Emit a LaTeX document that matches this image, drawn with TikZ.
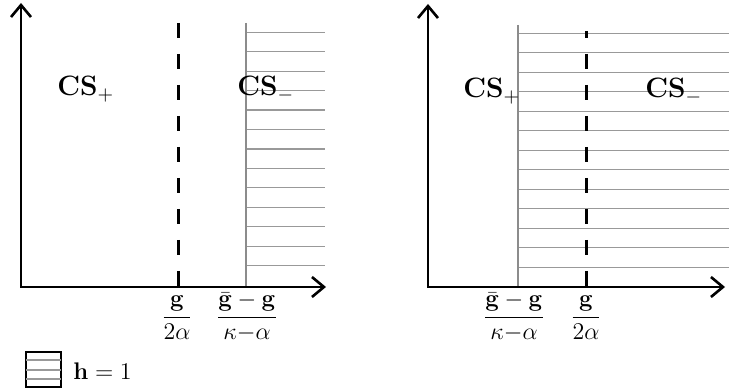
\documentclass[tikz,border=0pt]{standalone}
\usepackage{amsmath}
\usetikzlibrary{arrows.meta}
\tikzset{
  eje/.style={
    line width=1.3pt,
    {Straight Barb[length=6pt,width=10pt]}-{Straight Barb[length=6pt,width=10pt]}
  },
  corte/.style={
    line width=1.5pt,
    dash pattern=on 7.5pt off 8pt
  },
  borde/.style={
    draw=black!45,
    line width=0.7pt
  },
  raya/.style={
    draw=black!40,
    line width=0.6pt
  },
  rotulo/.style={
    inner sep=0pt,
    font=\fontsize{14}{17}\selectfont
  },
  cociente/.style={
    inner sep=0pt,
    anchor=base,
    font=\fontsize{12}{14}\selectfont
  }
}

\begin{document}
\begin{tikzpicture}[x=0.5pt,y=-0.5pt]
\useasboundingbox (0,0) rectangle (729,389);
% panel izquierdo
\coordinate (o1) at (21,287);
\coordinate (y1) at (21,3);
\coordinate (x1) at (326,287);
\foreach \k in {0,...,12}
  \draw[raya] (246,{32.3+19.45*\k}) -- (325,{32.3+19.45*\k});
\draw[borde] (246,23) -- (246,287);
\draw[corte] (178,23) -- (178,287);
\draw[eje] (y1) -- (o1) -- (x1);
\node[rotulo, anchor=base west] (cs1) at (57,96) {\textbf{CS}$_{+}$};
\node[rotulo, anchor=base west] (cs2) at (237,96) {\textbf{CS}$_{-}$};
\node[cociente] (f1) at (177,323) {$\displaystyle\frac{\mathbf{g}}{2\alpha}$};
\node[cociente] (f2) at (247,323) {$\displaystyle\frac{\bar{\mathbf{g}}-\mathbf{g}}{\kappa{-}\alpha}$};
% panel derecho
\coordinate (o2) at (428,287);
\coordinate (y2) at (428,4);
\coordinate (x2) at (725,287);
\foreach \k in {0,...,12}
  \draw[raya] (518,{33.3+19.5*\k}) -- (729,{33.3+19.5*\k});
\draw[borde] (518,25) -- (518,287);
\draw[corte, dash phase=4pt] (586,31) -- (586,287);
\draw[eje] (y2) -- (o2) -- (x2);
\node[rotulo, anchor=base west] (cs3) at (463,98) {\textbf{CS}$_{+}$};
\node[rotulo, anchor=base west] (cs4) at (645,98) {\textbf{CS}$_{-}$};
\node[cociente] (f3) at (514,323) {$\displaystyle\frac{\bar{\mathbf{g}}-\mathbf{g}}{\kappa{-}\alpha}$};
\node[cociente] (f4) at (586,323) {$\displaystyle\frac{\mathbf{g}}{2\alpha}$};
% leyenda
\draw[line width=0.6pt] (26,352) rectangle (61,387);
\foreach \y in {360,370,379}
  \draw[raya] (26,\y) -- (61,\y);
\node[rotulo, font=\fontsize{12}{14}\selectfont, anchor=base west] (ley) at (73,380) {$\mathbf{h}=1$};
\end{tikzpicture}
\end{document}
